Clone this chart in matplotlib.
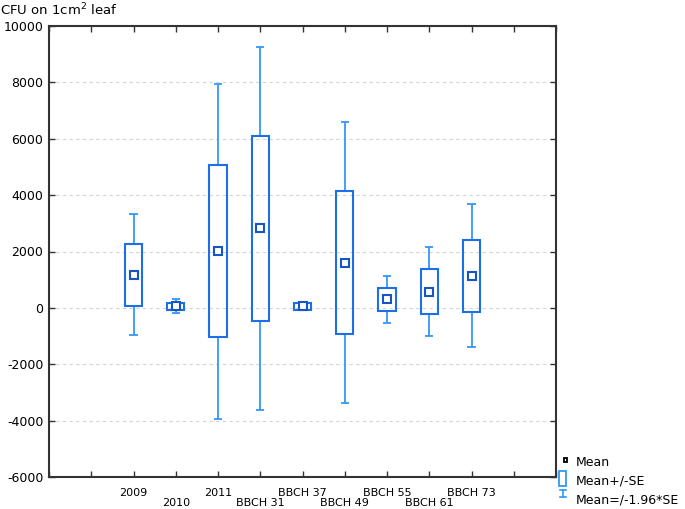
import matplotlib
matplotlib.use("Agg")
import matplotlib.pyplot as plt
from matplotlib.lines import Line2D
from matplotlib.patches import Rectangle
from matplotlib.transforms import blended_transform_factory

plt.rcParams['font.family'] = ['DejaVu Sans']

categories = ["2009", "2010", "2011", "BBCH 31", "BBCH 37", "BBCH 49", "BBCH 55", "BBCH 61", "BBCH 73"]
means   = [1184,   57, 2013, 2820,   60, 1600,  302,  576, 1145]
se_low  = [  71,  -71, -1020, -474,  -64, -936, -114, -206, -135]
se_high = [2276,  188, 5060, 6080,  171, 4148,  718, 1380, 2425]
ci_low  = [-974, -192, -3947, -3615, -64, -3378, -526, -1003, -1394]
ci_high = [3317,  306, 7940, 9244,  171, 6603, 1130, 2162, 3670]
yticks = [-6000, -4000, -2000, 0, 2000, 4000, 6000, 8000, 10000]

W, H = 685, 509
fig = plt.figure(figsize=(W / 100, H / 100), dpi=100)
ax = fig.add_axes([49 / W, 1 - 477 / H, (556 - 49) / W, (477 - 26) / H])

box_col = '#1c6fe6'
wh_col = '#3397f7'
mean_col = '#1655c4'

x = list(range(1, len(categories) + 1))
bw = 0.41
cw = 0.2

# whiskers
ax.vlines(x, se_high, ci_high, color=wh_col, lw=1.3, zorder=2)
ax.vlines(x, ci_low, se_low, color=wh_col, lw=1.3, zorder=2)
ax.hlines(ci_high, [xi - cw / 2 for xi in x], [xi + cw / 2 for xi in x], color=wh_col, lw=1.3, zorder=2)
ax.hlines(ci_low, [xi - cw / 2 for xi in x], [xi + cw / 2 for xi in x], color=wh_col, lw=1.3, zorder=2)
# SE boxes
ax.bar(x, [h - l for h, l in zip(se_high, se_low)], bottom=se_low, width=bw,
       fill=False, edgecolor=box_col, linewidth=1.5, zorder=3)
# means
ax.plot(x, means, ls='none', marker='s', markersize=5.5, mfc='white', mec=mean_col, mew=1.5, zorder=4)

ax.set_xlim(-1, 11)
ax.set_ylim(-6000, 10000)
ax.set_yticks(yticks)
ax.set_yticklabels([str(v) for v in yticks])
ax.set_xticks(range(-1, 12))
ax.set_xticklabels([])
ax.tick_params(axis='both', direction='in', length=4, width=1, color='#333333',
               top=True, right=True, labelsize=9)
ax.tick_params(axis='y', pad=4)
for s in ax.spines.values():
    s.set_linewidth(1.5)
    s.set_color('#333333')

# staggered category labels
trans = blended_transform_factory(ax.transData, fig.transFigure)
for xi, lab in zip(x, categories):
    ypx = 495.5 if xi % 2 == 1 else 505.5
    ax.text(xi, 1 - ypx / H, lab, transform=trans, ha='center', va='baseline',
            fontsize=8, clip_on=False)

ax.grid(axis='y', color='#d4d4dc', linestyle=(0, (3, 3)), linewidth=0.8)
ax.set_axisbelow(True)

fig.text(0 / W, 1 - 10 / H, "CFU on 1cm$^2$ leaf", fontsize=9.5, va='center', ha='left')

def fx(px):
    return px / W

def fy(py):
    return 1 - py / H

# legend
fig.add_artist(Rectangle((fx(563.5), fy(461.5)), fx(3.5), 3.5 / H, fill=False,
                         edgecolor='black', linewidth=1.3, transform=fig.transFigure))
fig.add_artist(Rectangle((fx(559), fy(486)), fx(6.5), 15 / H, fill=False,
                         edgecolor=wh_col, linewidth=1.3, transform=fig.transFigure))
fig.add_artist(Line2D([fx(562.5), fx(562.5)], [fy(490), fy(497)], color=wh_col, lw=1.2,
                      transform=fig.transFigure))
fig.add_artist(Line2D([fx(559.5), fx(565.5)], [fy(490), fy(490)], color=wh_col, lw=1.2,
                      transform=fig.transFigure))
fig.add_artist(Line2D([fx(559.5), fx(565.5)], [fy(497), fy(497)], color=wh_col, lw=1.2,
                      transform=fig.transFigure))
fig.text(fx(576), fy(463), "Mean", fontsize=9, va='center', ha='left')
fig.text(fx(576), fy(481), "Mean+/-SE", fontsize=9, va='center', ha='left')
fig.text(fx(576), fy(500), "Mean=/-1.96*SE", fontsize=9, va='center', ha='left')

fig.savefig("out.png", dpi=100)
